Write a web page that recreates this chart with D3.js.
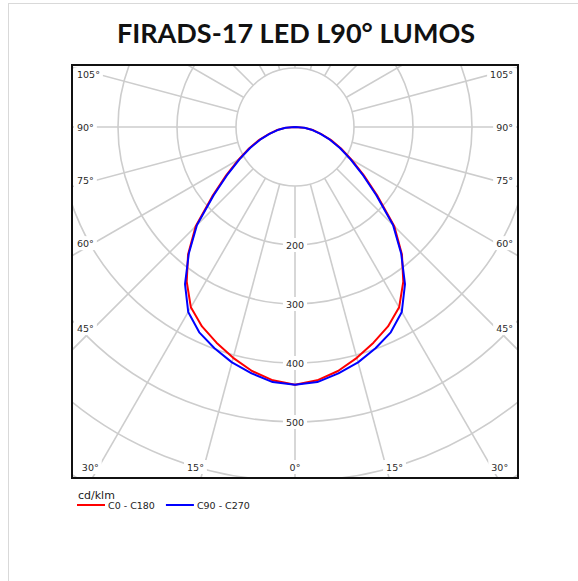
<!DOCTYPE html>
<html>
<head>
<meta charset="utf-8">
<script src="https://cdn.jsdelivr.net/npm/d3@7"></script>
<style>
  body { margin: 0; background: #fff; }
  svg { display: block; }
</style>
</head>
<body>
<svg id="chart" width="578" height="581"></svg>
<script>
// Luminous intensity (cd/klm) by gamma angle, 0° = straight down
const gammaDeg = [0, 5, 10, 15, 20, 25, 30, 35, 40, 45, 50, 55, 60, 65, 70, 75, 80, 85, 90];
const c0c180  = [437, 431, 420, 405, 389, 373, 353, 320, 282, 238, 183, 142, 110, 86, 65, 46, 32, 17, 0];
const c90c270 = [437, 434, 424, 413, 399, 384, 362, 325, 280, 235, 180, 139, 108, 84, 63, 44, 30, 16, 0];

const ringValues = [100, 200, 300, 400, 500, 600, 700, 800];
const ringLabels = [200, 300, 400, 500];
const spokeAngles = [0, 15, 30, 45, 60, 75, 90, 105, 120, 135, 150, 165, 180];
const angleLabels = [0, 15, 30, 45, 60, 75, 90, 105];

const series = [
  { name: "C0 - C180", values: c0c180, color: "#ff0000" },
  { name: "C90 - C270", values: c90c270, color: "#0000ff" }
];

const svg = d3.select("#chart");

// page border
svg.append("rect")
  .attr("x", 8.5).attr("y", 3.5)
  .attr("width", 600).attr("height", 600)
  .attr("fill", "none").attr("stroke", "#d9d9d9");

// title
svg.append("text")
  .attr("x", 296).attr("y", 43)
  .attr("text-anchor", "middle")
  .attr("font-family", "Lato, 'Open Sans', sans-serif")
  .attr("font-weight", "bold")
  .attr("font-size", 27)
  .attr("fill", "#111")
  .text("FIRADS-17 LED L90° LUMOS");

// frame
const frame = { x0: 72, y0: 65, x1: 518, y1: 478 };
const cx = 295, cy = 127;

const r = d3.scaleLinear().domain([0, 100]).range([0, 59]);

svg.append("clipPath").attr("id", "clip")
  .append("rect")
  .attr("x", frame.x0).attr("y", frame.y0)
  .attr("width", frame.x1 - frame.x0).attr("height", frame.y1 - frame.y0);

const grid = svg.append("g").attr("clip-path", "url(#clip)");
const gridColor = "#cdcdcd";

// rings
grid.selectAll(".ring")
  .data(ringValues)
  .enter()
  .append("circle")
  .attr("class", "ring")
  .attr("cx", cx).attr("cy", cy)
  .attr("r", d => r(d))
  .attr("fill", "none")
  .attr("stroke", gridColor)
  .attr("stroke-width", 1.6);

// spokes, both sides, from the inner ring outward
const rad = d => d * Math.PI / 180;
const spokeData = [];
spokeAngles.forEach(a => {
  spokeData.push({ a, side: -1 });
  if (a !== 0 && a !== 180) spokeData.push({ a, side: 1 });
});
const rMin = r(ringValues[0]), rMax = 700;
grid.selectAll(".spoke")
  .data(spokeData)
  .enter()
  .append("line")
  .attr("class", "spoke")
  .attr("x1", d => cx + d.side * Math.sin(rad(d.a)) * rMin)
  .attr("y1", d => cy + Math.cos(rad(d.a)) * rMin)
  .attr("x2", d => cx + d.side * Math.sin(rad(d.a)) * rMax)
  .attr("y2", d => cy + Math.cos(rad(d.a)) * rMax)
  .attr("stroke", gridColor)
  .attr("stroke-width", 1.6);

// helper: text with white box behind
const labelFont = "'DejaVu Sans', Verdana, sans-serif";
function boxedLabel(txt, fontSize) {
  const g = svg.append("g");
  const bg = g.append("rect").attr("fill", "#fff");
  const t = g.append("text")
    .attr("font-family", labelFont)
    .attr("font-size", fontSize)
    .attr("fill", "#2a2a2a")
    .attr("dominant-baseline", "central")
    .text(txt);
  return { g, bg, t, w: t.node().getComputedTextLength() };
}
function place(lbl, xLeft, yMid) {
  lbl.t.attr("x", xLeft).attr("y", yMid);
  lbl.bg.attr("x", xLeft - 3).attr("y", yMid - 7)
    .attr("width", lbl.w + 6).attr("height", 14);
}

// ring value labels along the 0° spoke
ringLabels.forEach(v => {
  const lbl = boxedLabel(v, 9.5);
  place(lbl, cx - lbl.w / 2, cy + r(v));
});

// angle labels where the spokes meet the frame
const pad = 5;
angleLabels.forEach(a => {
  const sides = a === 0 ? [0] : [-1, 1];
  sides.forEach(side => {
    const s = Math.sin(rad(a)), c = Math.cos(rad(a));
    const lbl = boxedLabel(a + "°", 9.5);
    const tSide = s > 0 ? (cx - frame.x0) / s : Infinity;
    const tBottom = c > 0 ? (frame.y1 - cy) / c : Infinity;
    if (tBottom <= tSide) {
      const yMid = frame.y1 - 11;
      const xr = cx + side * s * (yMid - cy) / c;
      let xLeft;
      if (side === 0) xLeft = cx - lbl.w / 2;
      else if (side < 0) xLeft = xr - lbl.w;
      else xLeft = xr;
      place(lbl, xLeft, yMid);
    } else {
      const xLeft = side < 0 ? frame.x0 + pad : frame.x1 - pad - lbl.w;
      const xi = side < 0 ? xLeft + lbl.w : xLeft;
      const yMid = cy + c * Math.abs(cx - xi) / s;
      place(lbl, xLeft, yMid);
    }
  });
});

// intensity curves (mirrored on both halves)
const curveLine = d3.lineRadial()
  .angle(d => d.angle)
  .radius(d => r(d.v))
  .curve(d3.curveLinear);

const curves = svg.append("g")
  .attr("transform", `translate(${cx},${cy})`);

series.forEach(sr => {
  const pts = [];
  for (let i = gammaDeg.length - 1; i >= 0; i--) {
    pts.push({ angle: Math.PI + rad(gammaDeg[i]), v: sr.values[i] });
  }
  for (let i = 0; i < gammaDeg.length; i++) {
    pts.push({ angle: Math.PI - rad(gammaDeg[i]), v: sr.values[i] });
  }
  curves.append("path")
    .datum(pts)
    .attr("d", curveLine)
    .attr("fill", "none")
    .attr("stroke", sr.color)
    .attr("stroke-width", 2)
    .attr("stroke-linejoin", "round");
});

// frame border
svg.append("rect")
  .attr("x", frame.x0).attr("y", frame.y0)
  .attr("width", frame.x1 - frame.x0).attr("height", frame.y1 - frame.y0)
  .attr("fill", "none")
  .attr("stroke", "#111")
  .attr("stroke-width", 2);

// legend
svg.append("text")
  .attr("x", 78).attr("y", 499)
  .attr("font-family", labelFont)
  .attr("font-size", 11)
  .attr("fill", "#222")
  .text("cd/klm");

const legend = svg.append("g").attr("transform", "translate(77,505)");
let lx = 0;
series.forEach(sr => {
  legend.append("line")
    .attr("x1", lx).attr("x2", lx + 28)
    .attr("y1", 0).attr("y2", 0)
    .attr("stroke", sr.color)
    .attr("stroke-width", 2);
  const t = legend.append("text")
    .attr("x", lx + 31).attr("y", 4)
    .attr("font-family", labelFont)
    .attr("font-size", 9.5)
    .attr("fill", "#222")
    .text(sr.name);
  lx += 31 + t.node().getComputedTextLength() + 11;
});
</script>
</body>
</html>
